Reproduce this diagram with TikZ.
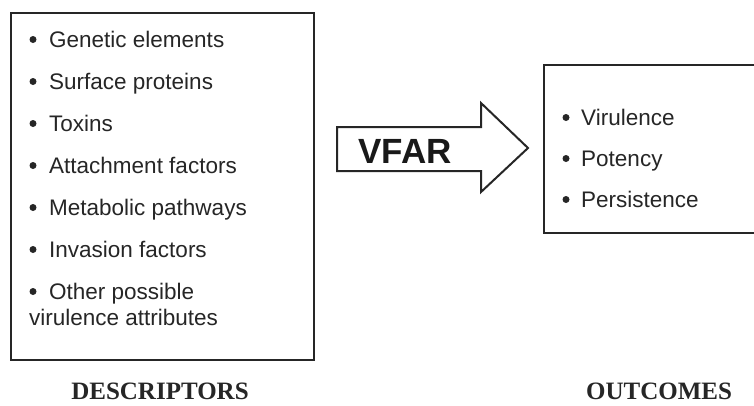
\documentclass[tikz,border=0pt]{standalone}
\usepackage{fontspec}
\setmainfont{Liberation Sans}
\newfontfamily\capfont{Liberation Serif}
\begin{document}
\begin{tikzpicture}[x=1pt,y=-1pt,
  frame/.style={draw=black!85,line width=2.6pt},
  item/.style={anchor=base west,inner sep=0pt,font=\fontsize{22.5}{26}\selectfont,text=black!85},
  dot/.style={circle,fill=black!85,inner sep=0pt,minimum size=7pt},
  caption/.style={anchor=base,inner sep=0pt,font=\capfont\bfseries\fontsize{25}{28}\selectfont,text=black!85},
  blockarrow/.style={draw=black!85,line width=2pt,line join=miter,fill=white}]
\useasboundingbox (0,0) rectangle (754,405);
\fill[white] (0,0) rectangle (754,405);

% descriptor box and its list
\draw[frame] (11,13) coordinate (dtl) rectangle (314,360) coordinate (dbr);
\foreach \y/\t [count=\i] in {47/Genetic elements,89/Surface proteins,131/Toxins,
    173/Attachment factors,215/Metabolic pathways,257/Invasion factors,299/Other possible}{
  \node[dot] (db\i) at (33,\y-7.5) {};
  \node[item] (d\i) at (49,\y) {\t};
}
\node[item] (d7b) at (29,325) {virulence attributes};

% block arrow labelled VFAR
\draw[blockarrow] (337,127) coordinate (a1) -- (481,127) -- (481,103) -- (528,148) coordinate (tip)
  -- (481,192) -- (481,171) -- (337,171) -- cycle;
\node[anchor=base,inner sep=0pt,font=\bfseries\fontsize{35}{38}\selectfont,text=black!90] (vfar) at (405,163) {VFAR};

% outcome box and its list
\draw[frame] (544,65) coordinate (otl) rectangle (760,233) coordinate (obr);
\foreach \y/\t [count=\i] in {125/Virulence,166/Potency,207/Persistence}{
  \node[dot] (ob\i) at (566,\y-7.5) {};
  \node[item] (o\i) at (581,\y) {\t};
}

% captions
\node[caption] (desc) at (160,399) {DESCRIPTORS};
\node[caption] (outc) at (659,399) {OUTCOMES};
\end{tikzpicture}
\end{document}
